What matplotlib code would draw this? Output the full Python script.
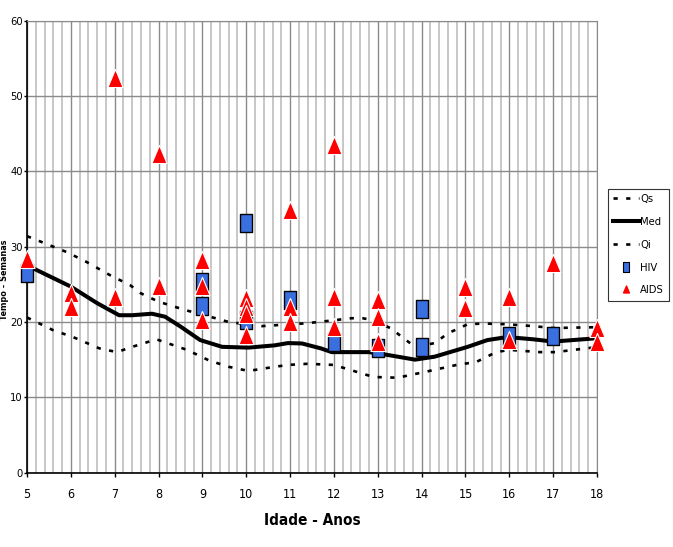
import matplotlib
matplotlib.use("Agg")
import matplotlib.pyplot as plt
from matplotlib.path import Path
from matplotlib.ticker import MultipleLocator
from matplotlib.lines import Line2D

plt.rcParams['font.family'] = ['DejaVu Sans']
plt.rcParams['font.stretch'] = 'condensed'

# ---- data ----
qs_age = [5.0, 5.6, 5.9, 6.35, 6.9, 7.35, 7.6, 8.0, 8.6, 9.3, 9.6, 10.35, 11.0, 11.3, 11.65,
          12.4, 12.65, 12.9, 13.3, 13.6, 13.85, 14.3, 14.6, 15.05, 15.4, 15.95, 16.55, 17.0, 17.9, 18.0]
qs_val = [31.4, 30.0, 29.3, 28.0, 26.2, 24.9, 23.8, 22.7, 21.6, 20.5, 20.0, 19.45, 19.7, 19.8, 20.0,
          20.5, 20.5, 20.25, 19.15, 17.8, 16.7, 17.2, 18.5, 19.7, 19.8, 19.7, 19.45, 19.2, 19.3, 19.3]

med_age = [5.0, 5.15, 6.0, 6.6, 7.1, 7.4, 7.85, 8.15, 8.5, 8.95, 9.45, 10.05, 10.65, 10.95, 11.27,
           11.7, 11.95, 12.8, 13.25, 13.85, 14.3, 15.05, 15.5, 15.95, 16.55, 17.0, 17.9, 18.0]
med_val = [27.5, 27.1, 24.7, 22.5, 20.9, 20.9, 21.1, 20.7, 19.4, 17.6, 16.7, 16.6, 16.9, 17.2, 17.15,
           16.5, 16.0, 16.0, 15.6, 15.0, 15.4, 16.7, 17.6, 18.0, 17.7, 17.4, 17.8, 17.9]

qi_age = [5.0, 5.6, 6.05, 6.65, 7.05, 7.4, 7.95, 8.35, 8.65, 9.15, 9.6, 10.05, 10.65, 10.95, 11.4,
          12.0, 12.45, 12.9, 13.45, 14.1, 14.8, 15.25, 15.7, 16.0, 16.7, 17.05, 17.9, 18.0]
qi_val = [20.6, 18.9, 18.0, 16.5, 16.0, 16.7, 17.7, 16.9, 16.3, 14.9, 14.05, 13.5, 14.05, 14.3, 14.45,
          14.3, 13.5, 12.7, 12.6, 13.4, 14.3, 14.7, 16.0, 16.3, 16.0, 16.0, 16.6, 16.8]

hiv_age = [5, 9, 9, 10, 10, 11, 12, 13, 14, 14, 16, 17]
hiv_val = [26.5, 25.3, 22.1, 33.1, 20.2, 22.9, 17.4, 16.5, 21.7, 16.7, 18.1, 18.1]

aids_age = [5, 6, 6, 7, 7, 8, 8, 9, 9, 9, 10, 10, 10, 10, 11, 11, 11, 12, 12, 12,
            13, 13, 13, 15, 15, 16, 16, 17, 18, 18]
aids_val = [28.4, 23.8, 22.0, 52.4, 23.3, 42.3, 24.8, 28.2, 24.8, 20.25, 23.2, 22.0, 21.0, 18.3,
            34.9, 22.0, 20.0, 43.5, 23.35, 19.4, 22.9, 20.7, 17.4, 24.7, 21.8, 23.35, 17.6,
            27.8, 19.15, 17.4]

x_ticks = list(range(5, 19))
y_ticks = [0, 10, 20, 30, 40, 50, 60]
legend_labels = ['Qs', 'Med', 'Qi', 'HIV', 'AIDS']

# ---- figure ----
fig = plt.figure(figsize=(6.73, 5.47), dpi=100)
ax = fig.add_axes([27 / 673, 0.136, 570 / 673, 0.826])

ax.set_xlim(5, 18)
ax.set_ylim(0, 60)
ax.xaxis.set_minor_locator(MultipleLocator(0.2))
ax.set_xticks(x_ticks)
ax.set_yticks(y_ticks)
ax.grid(True, which='major', axis='both', color='#8a8a8a', linewidth=1.0, zorder=0)
ax.grid(True, which='minor', axis='x', color='#b8b8b8', linewidth=1.1, zorder=0)
ax.set_axisbelow(True)
ax.tick_params(axis='both', which='major', direction='out', length=3, width=1, labelsize=9, pad=1)
ax.tick_params(axis='y', length=2.5, pad=0.5, labelsize=8)
ax.tick_params(axis='x', which='minor', length=0)
ax.tick_params(axis='x', pad=8)
for s in ['top', 'right']:
    ax.spines[s].set_color('#8a8a8a')
for s in ['left', 'bottom']:
    ax.spines[s].set_color('black')
    ax.spines[s].set_linewidth(1.2)

dot = (0, (1.6, 3.2))
ax.plot(qs_age, qs_val, color='black', lw=1.9, linestyle=dot, zorder=3)
ax.plot(med_age, med_val, color='black', lw=2.9, linestyle='-', zorder=3)
ax.plot(qi_age, qi_val, color='black', lw=1.9, linestyle=dot, zorder=3)

rect = Path([(-0.33, -0.5), (0.33, -0.5), (0.33, 0.5), (-0.33, 0.5), (-0.33, -0.5)],
            [Path.MOVETO, Path.LINETO, Path.LINETO, Path.LINETO, Path.CLOSEPOLY])
tri = Path([(0, 0.5), (-0.42, -0.5), (0.42, -0.5), (0, 0.5)],
           [Path.MOVETO, Path.LINETO, Path.LINETO, Path.CLOSEPOLY])

ax.plot(hiv_age, hiv_val, linestyle='none', marker=rect, markersize=12.5,
        markerfacecolor='#3a6fe0', markeredgecolor='black', markeredgewidth=1.0,
        clip_on=False, zorder=4)
ax.plot(aids_age, aids_val, linestyle='none', marker=tri, markersize=13,
        markerfacecolor='#ff0000', markeredgecolor='white', markeredgewidth=0.8,
        clip_on=False, zorder=5)

ax.set_xlabel('Idade - Anos', fontsize=11, fontweight='bold', labelpad=9)
fig.text(5 / 673, 1 - 280 / 547, 'Tempo - Semanas', rotation=90, fontsize=6.5,
         fontweight='bold', ha='center', va='center')

handles = [
    Line2D([], [], color='black', lw=1.9, linestyle=dot),
    Line2D([], [], color='black', lw=2.9),
    Line2D([], [], color='black', lw=1.9, linestyle=dot),
    Line2D([], [], linestyle='none', marker=rect, markersize=7, markerfacecolor='#3a6fe0',
           markeredgecolor='black', markeredgewidth=0.8),
    Line2D([], [], linestyle='none', marker=tri, markersize=5, markerfacecolor='#ff0000',
           markeredgecolor='#ff0000'),
]
leg = fig.legend(handles, legend_labels, loc='upper left',
                 bbox_to_anchor=(0.903, 0.655), fontsize=8, frameon=True, fancybox=False,
                 edgecolor='black', handlelength=2.3, handletextpad=0.1, labelspacing=1.15,
                 borderpad=0.5, borderaxespad=0)
leg.get_frame().set_linewidth(0.8)

fig.savefig('out.png', dpi=100)
